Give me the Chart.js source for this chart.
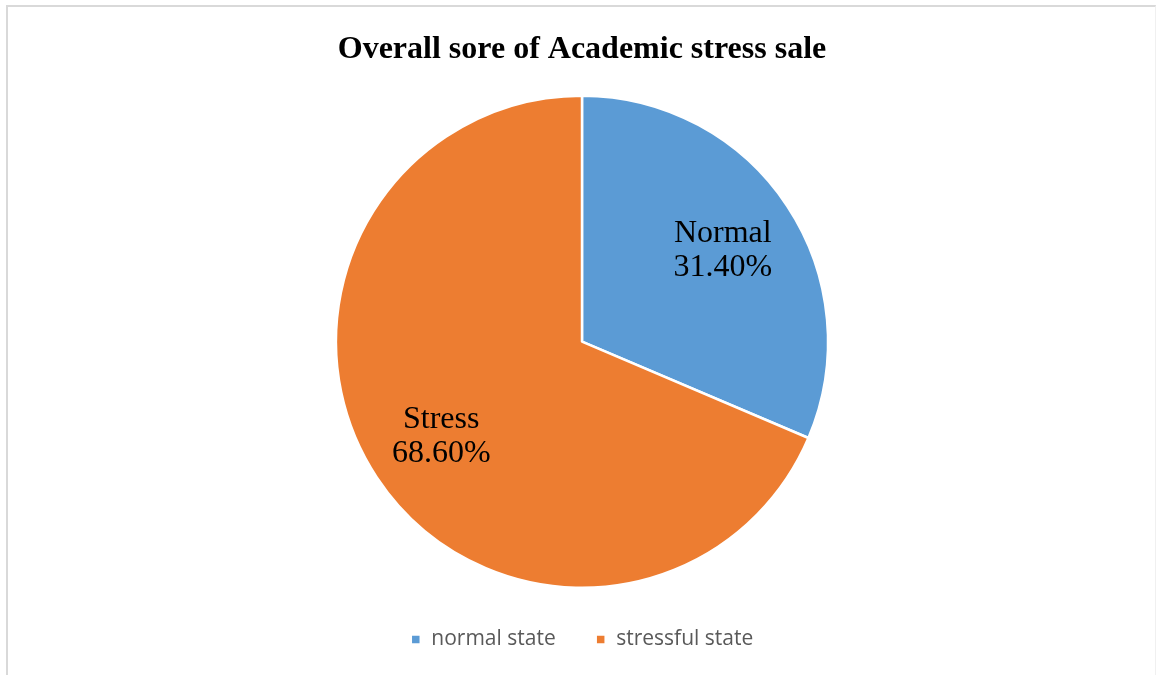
<!DOCTYPE html>
<html>
<head>
<meta charset="utf-8">
<script src="https://cdn.jsdelivr.net/npm/chart.js@4.4.1/dist/chart.umd.min.js"></script>
<style>
  html, body { margin: 0; padding: 0; background: #ffffff; }
  #frame {
    position: absolute; left: 6px; top: 5px; width: 1150px; height: 670px;
    border-left: 2px solid #d9d9d9; border-top: 2px solid #d9d9d9;
    border-right: 1px solid #f0f0f0; box-sizing: border-box;
  }
  #wrap { position: absolute; left: 0; top: 0; width: 1158px; height: 675px; }
</style>
</head>
<body>
<div id="frame"></div>
<div id="wrap"><canvas id="chart" width="1158" height="675"></canvas></div>
<script>
const titleText = "Overall sore of Academic stress sale";
const categories = ["normal state", "stressful state"];
const sliceNames = ["Normal", "Stress"];
const percentages = [31.4, 68.6];
const sliceColors = ["#5B9BD5", "#ED7D31"];

// Writes name + percentage inside each slice, along its mid angle
const sliceLabels = {
  id: "sliceLabels",
  afterDatasetsDraw(chart) {
    const ctx = chart.ctx;
    const meta = chart.getDatasetMeta(0);
    ctx.save();
    ctx.font = "32px 'Liberation Serif', 'Times New Roman', serif";
    ctx.fillStyle = "#000000";
    ctx.textAlign = "center";
    ctx.textBaseline = "alphabetic";
    meta.data.forEach((arc, i) => {
      const p = arc.getProps(["x", "y", "startAngle", "endAngle", "outerRadius"], true);
      const mid = (p.startAngle + p.endAngle) / 2;
      const r = p.outerRadius * 0.686;
      const cx = p.x + Math.cos(mid) * r;
      const cy = p.y + Math.sin(mid) * r;
      ctx.fillText(sliceNames[i], cx, cy - 7);
      ctx.fillText(percentages[i].toFixed(2) + "%", cx, cy + 27);
    });
    ctx.restore();
  }
};

new Chart(document.getElementById("chart"), {
  type: "pie",
  data: {
    labels: categories,
    datasets: [{
      data: percentages,
      backgroundColor: sliceColors,
      borderColor: "#ffffff",
      borderWidth: 2.5
    }]
  },
  options: {
    responsive: false,
    animation: false,
    layout: { padding: { top: 31, bottom: 15, left: 6, right: 0 } },
    plugins: {
      title: {
        display: true,
        text: titleText,
        color: "#000000",
        font: { family: "'Liberation Serif', 'Times New Roman', serif", size: 32, weight: "bold" },
        padding: { top: 0, bottom: 25 }
      },
      legend: {
        position: "bottom",
        labels: {
          color: "#595959",
          font: { family: "'Open Sans', 'Liberation Sans', sans-serif", size: 21 },
          boxWidth: 10,
          boxHeight: 10,
          padding: 40
        }
      },
      tooltip: { enabled: false }
    }
  },
  plugins: [sliceLabels]
});
</script>
</body>
</html>
